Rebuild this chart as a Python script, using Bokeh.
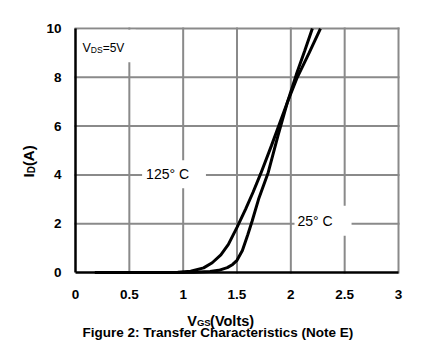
import math
from bokeh.plotting import figure
from bokeh.models import Range1d, FixedTicker, Label, BoxAnnotation, LinearAxis
from bokeh.embed import file_html
from bokeh.resources import INLINE

# ---- data ----
vgs_25 = [0.18, 0.8, 1.1, 1.25, 1.33, 1.41, 1.46, 1.5, 1.55, 1.6, 1.64, 1.7, 1.79, 1.88, 1.97, 2.05, 2.13, 2.2]
id_25 = [0.0, 0.0, 0.01, 0.04, 0.09, 0.2, 0.33, 0.5, 0.9, 1.55, 2.1, 3.0, 4.1, 5.6, 7.0, 8.1, 9.1, 10.0]

vgs_125 = [0.18, 0.7, 0.95, 1.07, 1.19, 1.27, 1.35, 1.42, 1.5, 1.58, 1.65, 1.72, 1.82, 1.97, 2.06, 2.17, 2.275]
id_125 = [0.0, 0.0, 0.01, 0.05, 0.19, 0.4, 0.72, 1.15, 1.85, 2.6, 3.3, 4.05, 5.2, 7.0, 8.0, 9.0, 10.0]

x_ticks = [0, 0.5, 1, 1.5, 2, 2.5, 3]
x_tick_labels = ["0", "0.5", "1", "1.5", "2", "2.5", "3"]
y_ticks = [0, 2, 4, 6, 8, 10]
y_tick_labels = ["0", "2", "4", "6", "8", "10"]

FONT = "Liberation Sans"
GRID = "#8a8a8a"

# frame covers the whole canvas; plotting area 0..3 x 0..10 lands at px 75..398 x 28..272
p = figure(width=442, height=355, output_backend="svg", toolbar_location=None,
           x_range=Range1d(-0.6966, 3.4086), y_range=Range1d(-3.4016, 11.148),
           x_axis_location=None, y_axis_location=None,
           min_border=0, min_border_left=0, min_border_right=0,
           min_border_top=0, min_border_bottom=0)
p.background_fill_color = "white"
p.border_fill_color = "white"
p.outline_line_color = None
p.grid.visible = False

# grid lines (bounded to the plotting area)
p.segment(x0=x_ticks[1:], y0=y_ticks[0], x1=x_ticks[1:], y1=y_ticks[-1],
          line_color=GRID, line_width=2, line_cap="square")
p.segment(x0=x_ticks[0], y0=y_ticks[1:], x1=x_ticks[-1], y1=y_ticks[1:],
          line_color=GRID, line_width=2, line_cap="square")

xaxis = LinearAxis(fixed_location=0, bounds=(x_ticks[0], x_ticks[-1]))
yaxis = LinearAxis(fixed_location=0, bounds=(y_ticks[0], y_ticks[-1]))
for ax, ticks, labels in ((xaxis, x_ticks, x_tick_labels), (yaxis, y_ticks, y_tick_labels)):
    ax.ticker = FixedTicker(ticks=ticks)
    ax.major_label_overrides = {t: l for t, l in zip(ticks, labels)}
    ax.major_tick_line_color = None
    ax.minor_tick_line_color = None
    ax.major_tick_out = 0
    ax.major_tick_in = 0
    ax.axis_line_color = "black"
    ax.axis_line_width = 2.5
    ax.major_label_text_font = FONT
    ax.major_label_text_font_style = "bold"
    ax.major_label_text_font_size = "13.5px"
    ax.major_label_text_color = "black"
xaxis.major_label_standoff = 17
yaxis.major_label_standoff = 14
p.add_layout(xaxis, "below")
p.add_layout(yaxis, "left")

p.line(vgs_125, id_125, line_color="black", line_width=3)
p.line(vgs_25, id_25, line_color="black", line_width=3)

# white box behind V_DS=5V
p.add_layout(BoxAnnotation(left=0.03, right=0.56, bottom=8.62, top=9.95,
                           fill_color="white", fill_alpha=1, line_color=None))

def lab(x, y, text, size, bold=False, align="left", baseline="alphabetic", angle=0, **kw):
    p.add_layout(Label(x=x, y=y, text=text, text_font=FONT, text_font_size=size,
                       text_font_style="bold" if bold else "normal", text_color="black",
                       text_align=align, text_baseline=baseline, angle=angle, **kw))

# V_DS=5V
lab(0.065, 9.2, "V", "12.5px")
lab(0.142, 9.12, "DS", "8.5px")
lab(0.252, 9.2, "=5V", "12px")

# temperature labels
lab(0.915, 4.03, "125°  C", "14px", align="center", baseline="middle",
    background_fill_color="white",
    padding=dict(left=4, right=13, top=6, bottom=6))
lab(2.299, 2.12, "25°  C", "14px", align="center", baseline="middle",
    background_fill_color="white",
    padding=dict(left=3, right=15, top=7, bottom=7))

# y axis label I_D(A)
lab(-0.44, 3.89, "I", "15px", bold=True, angle=math.pi / 2)
lab(-0.41, 4.07, "D", "10px", bold=True, angle=math.pi / 2)
lab(-0.44, 4.36, "(A)", "15px", bold=True, angle=math.pi / 2)

# x axis label V_GS(Volts)
lab(1.037, -1.97, "V", "14.5px", bold=True)
lab(1.128, -2.06, "GS", "9.5px", bold=True)
lab(1.25, -1.97, "(Volts)", "14.5px", bold=True)

# caption
lab(1.323, -2.47, "Figure 2: Transfer Characteristics (Note E)", "13.5px", bold=True, align="center")

open("out.html", "w").write(file_html(p, INLINE))
